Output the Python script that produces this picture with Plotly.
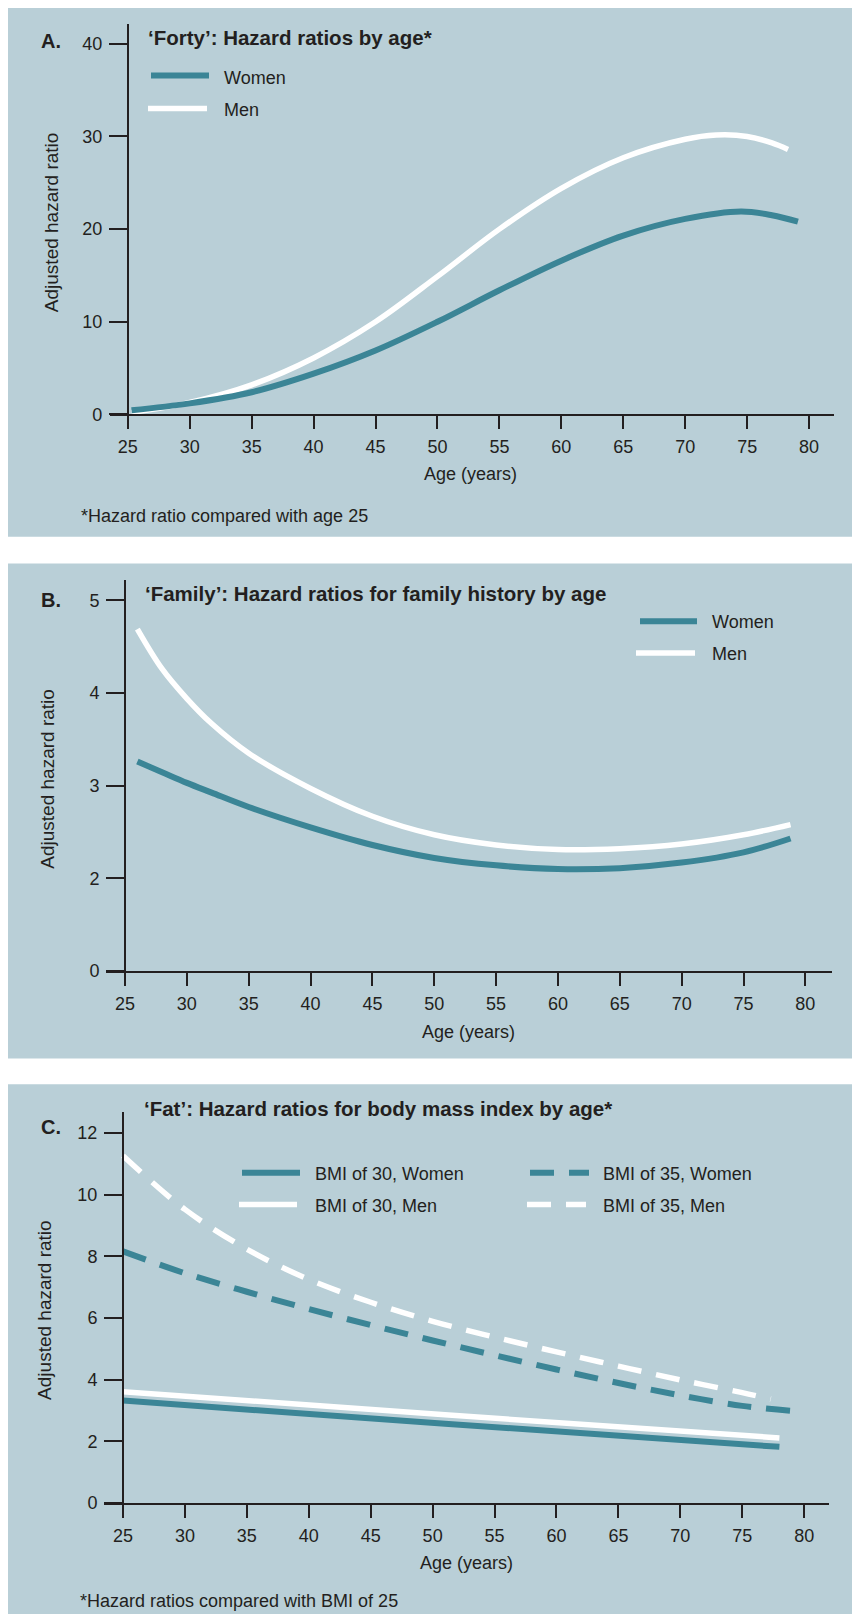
import plotly.graph_objects as go

# ---------------- data ----------------
# Panel A: 'Forty'
a_age_women = [25.3, 30, 35, 40, 45, 50, 55, 60, 65, 70, 74.5, 77, 79.1]
a_hr_women = [0.45, 1.2, 2.4, 4.4, 6.9, 10.0, 13.4, 16.6, 19.3, 21.1, 21.9, 21.5, 20.8]
a_age_men = [25.3, 30, 35, 40, 45, 50, 55, 60, 65, 70, 72.5, 75, 77, 78.3]
a_hr_men = [0.2, 1.3, 3.2, 6.1, 10.0, 14.9, 20.0, 24.4, 27.7, 29.7, 30.15, 30.0, 29.3, 28.6]
a_yticks = [0, 10, 20, 30, 40]

# Panel B: 'Family'
b_age = [26.0, 28, 30, 32, 35, 40, 45, 50, 55, 60, 65, 70, 75, 78.8]
b_hr_women = [3.26, 3.145, 3.03, 2.925, 2.77, 2.55, 2.36, 2.22, 2.14, 2.10, 2.11, 2.17, 2.28, 2.43]
b_hr_men = [4.69, 4.26, 3.94, 3.67, 3.35, 2.97, 2.67, 2.47, 2.36, 2.31, 2.32, 2.37, 2.47, 2.58]
b_yticks = [0, 2, 3, 4, 5]          # axis is broken between 0 and 2

# Panel C: 'Fat'
c_age_30 = [25, 51, 78]
c_hr_30_women = [3.32, 2.57, 1.82]
c_hr_30_men = [3.61, 2.86, 2.11]
c_age_35_women = [25, 30, 35, 40, 45, 50, 55, 60, 65, 70, 75, 78.9]
c_hr_35_women = [8.16, 7.45, 6.85, 6.29, 5.77, 5.27, 4.79, 4.33, 3.89, 3.49, 3.15, 2.99]
c_age_35_men = [25, 30, 35, 40, 45, 50, 55, 60, 65, 70, 75, 77.3]
c_hr_35_men = [11.26, 9.52, 8.23, 7.25, 6.51, 5.89, 5.38, 4.90, 4.44, 3.99, 3.58, 3.37]
c_yticks = [0, 2, 4, 6, 8, 10, 12]

age_ticks = [25, 30, 35, 40, 45, 50, 55, 60, 65, 70, 75, 80]

# ---------------- style ----------------
BG = "#B9CFD7"
TEAL = "#3B8596"
WHITE = "#FFFFFF"
INK = "#231F20"
FONT = "Liberation Sans, Arial, Helvetica, sans-serif"
DASH = "24px,15px"

# the page body has an 8px margin, so the figure is drawn 8px in from the corner
OFF = 8
W, H = 860 - OFF, 1624 - OFF


def fx(px):
    return (px - OFF) / W


def fy(py):
    return 1 - (py - OFF) / H


fig = go.Figure()

# panel geometry (page pixels): x-axis line extent, x of age 25, px/yr,
# y pixel of value 0, top of y axis, px/unit
panels = {
    "A": dict(xl=110, xr=834, x25=127.8, ppy=12.387, y0=417, ytop=24, ppu=9.325),
    "B": dict(xl=106, xr=832, x25=125.0, ppy=12.37, y0=977, ytop=584, ppu=93.25),
    "C": dict(xl=104, xr=829, x25=123.0, ppy=12.385, y0=1512.3, ytop=1119, ppu=31.03),
}

axis_ids = {"A": ("x", "y"), "B": ("x2", "y2"), "C": ("x3", "y3")}

# B axis break: values >= 2 are shifted down by 1 unit so that 2 sits one step above 0
B_SHIFT = 1


def add_line(panel, xs, ys, color, width, dash="solid", name=""):
    xa, ya = axis_ids[panel]
    fig.add_trace(go.Scatter(
        x=xs, y=ys, mode="lines", name=name, showlegend=False,
        line=dict(color=color, width=width, dash=dash, shape="spline", smoothing=1.0),
        xaxis=xa, yaxis=ya, hoverinfo="skip"))


# Panel A
add_line("A", a_age_men, a_hr_men, WHITE, 5.5, name="Men")
add_line("A", a_age_women, a_hr_women, TEAL, 6, name="Women")
# Panel B
add_line("B", b_age, [v - B_SHIFT for v in b_hr_men], WHITE, 5.5, name="Men")
add_line("B", b_age, [v - B_SHIFT for v in b_hr_women], TEAL, 6, name="Women")
# Panel C
add_line("C", c_age_35_men, c_hr_35_men, WHITE, 5.5, DASH, "BMI of 35, Men")
add_line("C", c_age_35_women, c_hr_35_women, TEAL, 6, DASH, "BMI of 35, Women")
add_line("C", c_age_30, c_hr_30_women, TEAL, 6, name="BMI of 30, Women")
add_line("C", c_age_30, c_hr_30_men, WHITE, 5.5, name="BMI of 30, Men")

layout_axes = {}
for i, key in enumerate(["A", "B", "C"]):
    p = panels[key]
    sfx = "" if i == 0 else str(i + 1)
    xr = [25 - (p["x25"] - p["xl"]) / p["ppy"], 25 + (p["xr"] - p["x25"]) / p["ppy"]]
    yr = [0, (p["y0"] - p["ytop"]) / p["ppu"]]
    if key == "A":
        tv, tt = a_yticks, [str(t) for t in a_yticks]
    elif key == "B":
        tv = [t if t == 0 else t - B_SHIFT for t in b_yticks]
        tt = [str(t) for t in b_yticks]
    else:
        tv, tt = c_yticks, [str(t) for t in c_yticks]
    layout_axes["xaxis" + sfx] = dict(
        domain=[fx(p["xl"]), fx(p["xr"])], range=xr, anchor="y" + sfx,
        showline=True, linecolor=INK, linewidth=2,
        ticks="outside", ticklen=13, tickwidth=2, tickcolor=INK,
        tickvals=age_ticks, ticktext=[str(t) for t in age_ticks],
        tickfont=dict(size=18, color=INK, family=FONT), ticklabelstandoff=2,
        showgrid=False, zeroline=False, fixedrange=True)
    layout_axes["yaxis" + sfx] = dict(
        domain=[fy(p["y0"]), fy(p["ytop"])], range=yr, anchor="free",
        position=fx(p["x25"]), side="left",
        showline=True, linecolor=INK, linewidth=2,
        ticks="outside", ticklen=18, tickwidth=2, tickcolor=INK,
        tickvals=tv, ticktext=tt, ticklabelstandoff=3,
        tickfont=dict(size=18, color=INK, family=FONT),
        showgrid=False, zeroline=False, fixedrange=True)

shapes = []
# panel backgrounds
for (y1, y2) in [(8, 540), (567, 1065), (1091, 1624)]:
    shapes.append(dict(type="rect", xref="paper", yref="paper", layer="below",
                       x0=fx(8), x1=fx(860), y0=fy(y2), y1=fy(y1),
                       fillcolor=BG, line=dict(width=0)))


def leg_line(x0, x1, y, color, width, dash="solid"):
    shapes.append(dict(type="line", xref="paper", yref="paper",
                       x0=fx(x0), x1=fx(x1), y0=fy(y), y1=fy(y),
                       line=dict(color=color, width=width, dash=dash)))


annotations = []


def text(x, y, s, size=18, bold=False, xanchor="left", angle=0, color=INK):
    annotations.append(dict(
        xref="paper", yref="paper", x=fx(x), y=fy(y), text=("<b>%s</b>" % s) if bold else s,
        showarrow=False, xanchor=xanchor, yanchor="middle", textangle=angle,
        font=dict(size=size, color=color, family=FONT)))


TS = 20.5  # panel title size

# Panel A legend / texts
leg_line(151, 209, 76, TEAL, 6)
leg_line(148, 207, 109, WHITE, 5.5)
text(222, 78, "Women")
text(222, 111, "Men")
text(39, 41, "A.", size=20, bold=True)
text(146, 38, "\u2018Forty\u2019: Hazard ratios by age*", size=TS, bold=True)
text(470, 477, "Age (years)", xanchor="center")
text(51, 223.5, "Adjusted hazard ratio", size=19, xanchor="center", angle=-90)
text(79, 519, "*Hazard ratio compared with age 25")

# Panel B legend / texts
leg_line(640, 697, 625, TEAL, 6)
leg_line(636, 695, 657, WHITE, 5.5)
text(710, 626, "Women")
text(710, 658, "Men")
text(39, 604, "B.", size=20, bold=True)
text(143, 597, "\u2018Family\u2019: Hazard ratios for family history by age", size=TS, bold=True)
text(468, 1038, "Age (years)", xanchor="center")
text(48, 783.5, "Adjusted hazard ratio", size=19, xanchor="center", angle=-90)

# Panel C legend / texts
leg_line(242, 300, 1180, TEAL, 6)
leg_line(239, 297, 1212, WHITE, 5.5)
leg_line(530, 589, 1180, TEAL, 6, DASH)
leg_line(527, 586, 1212, WHITE, 5.5, DASH)
text(313, 1181, "BMI of 30, Women")
text(313, 1213, "BMI of 30, Men")
text(601, 1181, "BMI of 35, Women")
text(601, 1213, "BMI of 35, Men")
text(39, 1134, "C.", size=20, bold=True)
text(142, 1115, "\u2018Fat\u2019: Hazard ratios for body mass index by age*", size=TS, bold=True)
text(466, 1573, "Age (years)", xanchor="center")
text(45, 1318, "Adjusted hazard ratio", size=19, xanchor="center", angle=-90)
text(78, 1611, "*Hazard ratios compared with BMI of 25")

fig.update_layout(
    width=W, height=H, autosize=False,
    margin=dict(l=0, r=0, t=0, b=0, pad=0),
    paper_bgcolor="white", plot_bgcolor="rgba(0,0,0,0)",
    font=dict(family=FONT, color=INK, size=18),
    showlegend=False, shapes=shapes, annotations=annotations,
    **layout_axes)

fig.write_html("out.html", include_plotlyjs=True, config={"displayModeBar": False})
